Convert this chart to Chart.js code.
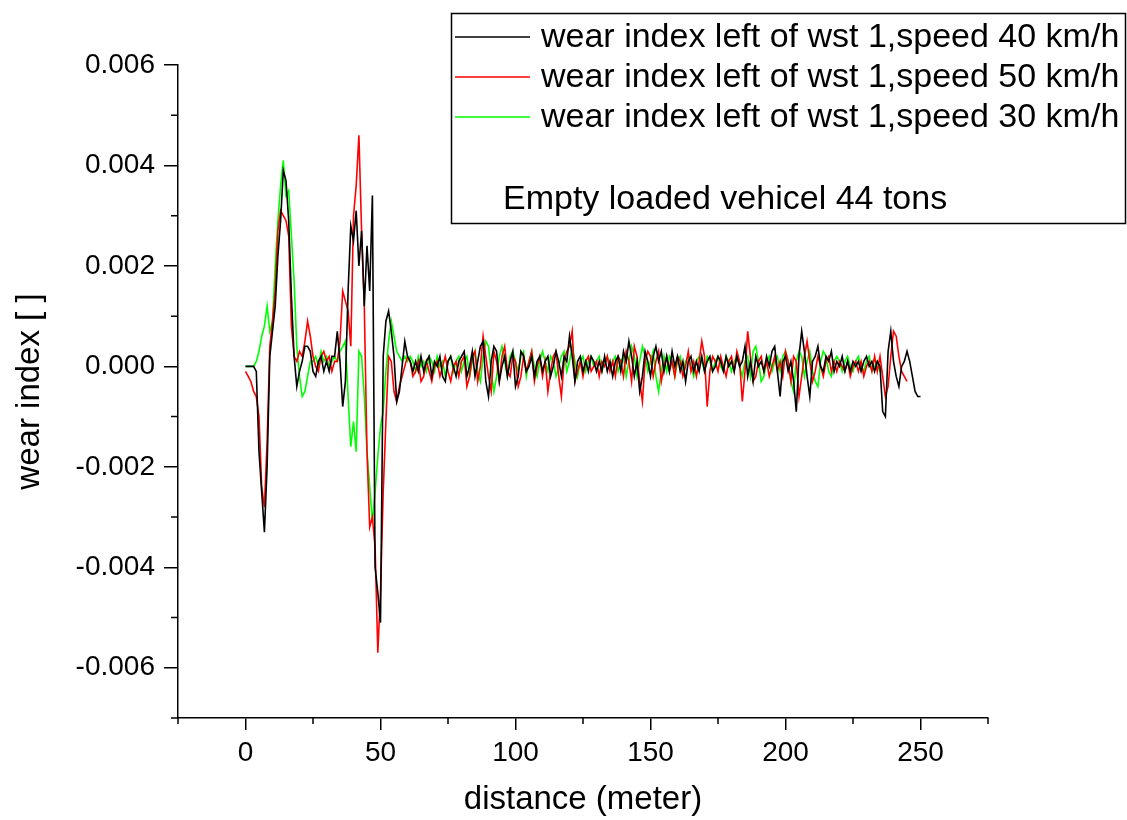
<!DOCTYPE html>
<html>
<head>
<meta charset="utf-8">
<title>wear index</title>
<script src="https://cdn.jsdelivr.net/npm/chart.js@4.4.1/dist/chart.umd.min.js"></script>
<style>
  html, body { margin: 0; padding: 0; background: #fff; }
  canvas { display: block; }
</style>
</head>
<body>
<canvas id="chart" width="1127" height="820"></canvas>
<script>
// distance step of the samples (meter), series start at 0 m
const distanceStep = 1;

// speed 40 km/h (black), 0..250 m
const wear40 = [
  0, 0, 0, 0, -0.0001, -0.0017, -0.0025, -0.0033, -0.0020, 0.0002,
  0.0007, 0.0012, 0.0022, 0.0029, 0.0039, 0.0037, 0.0029, 0.0014, 0.0002, -0.0004,
  -0.0001, 0.0001, 0.0004, 0.0004, 0.0003, -0.0001, -0.0002, 0.0001, 0.0002, -0.0001,
  0.0001, -0.0001, 0.0002, 0.0002, 0.0007, 0.0001, -0.0008, -0.0003, 0.0015, 0.0028,
  0.0025, 0.0031, 0.0020, 0.0027, 0.0012, 0.0024, 0.0015, 0.0034, -0.0040, -0.0045,
  -0.0051, 0.0002, 0.0009, 0.0011, 0.0007, 0.0002, -0.0007, -0.0005, 0, 0.0005,
  0.0002, 0.0001, -0.0001, 0.0001, -0.0001, 0.0002, -0.0001, 0.0001, 0.0002, -0.0002,
  0.0001, 0, 0.0002, -0.0002, -0.0003, 0.0001, 0.0002, 0, -0.0002, 0.0001,
  0.0002, 0.0003, -0.0002, 0, 0.0003, -0.0002, 0.0001, 0.0004, 0.0005, -0.0003,
  -0.0006, 0.0001, 0.0004, 0.0003, -0.0003, 0, 0.0002, -0.0002, 0.0001, 0.0003,
  -0.0004, -0.0002, 0.0003, 0.0002, -0.0001, 0, 0.0002, -0.0002, 0.0001, 0.0002,
  -0.0001, 0.0001, 0.0002, -0.0002, 0, 0.0003, 0.0001, -0.0002, 0.0002, 0.0001,
  0.0006, 0.0002, -0.0003, 0.0001, 0.0002, -0.0001, 0.0001, -0.0001, 0.0002, 0.0001,
  -0.0001, 0.0001, -0.0001, 0.0002, -0.0001, 0.0001, -0.0002, 0.0001, 0.0002, -0.0001,
  0.0003, 0.0001, 0.0005, 0.0002, -0.0002, 0.0001, -0.0005, -0.0002, 0.0003, 0.0001,
  -0.0002, 0.0002, 0.0004, 0.0001, 0.0003, -0.0001, 0.0002, -0.0001, 0.0003, 0,
  0.0002, -0.0001, 0.0001, -0.0003, 0.0001, 0.0002, -0.0001, 0.0001, -0.0001, 0.0002,
  -0.0001, 0.0001, 0.0002, -0.0001, 0, 0.0002, 0.0001, -0.0001, 0.0002, 0,
  0.0001, -0.0001, 0.0002, 0, 0.0001, 0.0004, -0.0002, 0.0001, -0.0003, 0.0002,
  0, 0.0001, -0.0001, 0.0002, 0, 0.0003, 0.0004, -0.0001, -0.0006, 0.0001,
  0.0002, -0.0001, 0.0001, -0.0003, -0.0009, 0.0002, 0.0007, 0.0003, -0.0002, -0.0006,
  0.0001, 0.0002, 0.0004, 0, -0.0001, 0.0002, 0.0001, 0.0003, -0.0001, 0.0001,
  0, 0.0002, -0.0001, 0.0001, -0.0001, 0.0001, 0, 0.0001, -0.0001, 0.0001,
  0.0002, 0, 0.0001, -0.0001, 0.0001, 0, -0.0009, -0.0010, 0.0003, 0.0007,
  0.0001, -0.0002, -0.0004, 0, 0.0001, 0.0003, 0.0001, -0.0002, -0.0005, -0.0006,
  -0.0006
];

// speed 50 km/h (red), 0..245 m
const wear50 = [
  -0.0001, -0.0002, -0.0003, -0.0005, -0.0006, -0.0010, -0.0024, -0.0028, -0.0015, 0.0004,
  0.0009, 0.0015, 0.0027, 0.0031, 0.0030, 0.0029, 0.0026, 0.0008, 0.0002, 0.0001,
  0.0003, 0.0002, 0.0005, 0.0009, 0.0006, 0.0002, 0, -0.0001, 0.0002, 0.0003,
  0.0001, 0.0002, -0.0001, 0.0001, 0.0001, 0.0005, 0.0015, 0.0013, 0.0011, 0.0004,
  0.0030, 0.0036, 0.0046, 0.0027, 0.0012, -0.0017, -0.0032, -0.0030, -0.0036, -0.0057,
  -0.0045, -0.0025, -0.0011, 0.0002, 0.0001, -0.0005, -0.0007, -0.0004, -0.0002, 0,
  0.0002, 0.0001, -0.0002, -0.0001, 0.0001, -0.0003, -0.0002, 0.0001, -0.0001, -0.0003,
  0, 0.0001, -0.0002, 0, 0.0002, -0.0001, -0.0003, 0, 0.0001, -0.0002,
  0.0001, 0.0002, -0.0004, -0.0002, 0.0002, 0.0003, -0.0003, 0, 0.0006, 0.0002,
  -0.0002, -0.0005, 0.0003, 0.0001, -0.0003, 0.0002, 0.0004, -0.0001, -0.0002, 0.0002,
  0.0001, -0.0004, -0.0002, 0.0002, -0.0001, 0.0001, 0.0003, -0.0003, 0, 0.0002,
  -0.0002, 0.0001, -0.0005, -0.0001, 0.0002, 0.0003, -0.0002, -0.0006, 0.0001, 0.0003,
  0.0004, 0.0007, -0.0003, -0.0001, 0.0001, -0.0002, 0.0001, 0.0002, -0.0001, 0,
  0.0001, -0.0002, 0.0001, 0, 0.0002, -0.0001, 0.0001, -0.0002, 0.0002, 0.0001,
  -0.0002, 0.0003, 0.0001, -0.0003, 0.0004, 0.0002, -0.0003, -0.0007, 0.0001, 0.0003,
  0.0002, -0.0002, 0.0001, 0.0003, -0.0003, 0, 0.0002, -0.0001, 0.0001, -0.0002,
  0.0002, 0.0001, -0.0002, 0, 0.0003, -0.0001, 0.0001, -0.0002, 0.0001, 0.0005,
  0.0002, -0.0008, -0.0001, 0.0002, 0.0001, -0.0001, 0.0002, 0, -0.0002, 0.0001,
  0.0002, -0.0001, 0.0003, 0.0001, -0.0007, -0.0001, 0.0007, 0.0002, -0.0003, -0.0002,
  0.0001, 0.0002, -0.0001, 0.0001, -0.0002, 0, 0.0002, -0.0001, 0.0001, -0.0002,
  0.0003, 0.0001, -0.0003, 0.0002, 0.0001, -0.0006, -0.0002, 0.0002, 0.0005, 0.0001,
  -0.0003, -0.0001, 0.0002, 0, -0.0002, 0.0001, 0.0002, -0.0001, 0.0001, -0.0001,
  0.0001, 0, -0.0001, 0.0001, -0.0002, 0, 0.0001, -0.0001, 0.0001, -0.0002,
  0, 0.0001, -0.0001, 0.0002, -0.0001, 0.0002, -0.0002, -0.0006, -0.0004, 0.0002,
  0.0007, 0.0006, 0.0002, -0.0001, -0.0002, -0.0003
];

// speed 30 km/h (green), 0..236 m
const wear30 = [
  0, 0, 0, 0, 0.0001, 0.0003, 0.0006, 0.0008, 0.0012, 0.0007,
  0.0009, 0.0020, 0.0029, 0.0036, 0.0041, 0.0034, 0.0035, 0.0026, 0.0017, 0.0004,
  -0.0002, -0.0006, -0.0005, -0.0002, 0.0001, 0.0001, 0.0002, 0, 0.0003, 0.0001,
  0.0002, 0, 0.0001, 0.0002, 0.0001, 0.0003, 0.0004, 0.0005, -0.0006, -0.0016,
  -0.0011, -0.0017, 0.0003, 0.0002, -0.0006, -0.0017, -0.0024, -0.0031, -0.0025, -0.0018,
  -0.0012, -0.0009, -0.0001, 0.0005, 0.0009, 0.0006, 0.0003, 0.0002, 0.0001, 0.0002,
  0.0001, 0.0002, 0.0001, -0.0001, 0.0002, 0, 0.0001, -0.0001, 0.0002, 0.0001,
  -0.0001, 0.0002, 0, 0.0001, -0.0002, 0.0001, 0.0002, -0.0001, 0.0001, 0.0002,
  -0.0001, 0.0001, 0.0002, -0.0002, 0.0001, 0.0003, -0.0001, -0.0003, 0.0002, 0.0005,
  0.0004, -0.0001, -0.0005, -0.0002, 0.0002, 0.0004, 0.0001, -0.0002, 0.0002, 0.0003,
  0.0001, -0.0001, 0.0002, 0.0003, -0.0002, 0.0001, 0.0003, 0, -0.0002, 0.0001,
  0.0003, 0.0001, -0.0001, 0.0002, 0.0001, -0.0002, 0, 0.0002, 0.0003, -0.0001,
  0.0001, 0.0004, 0.0001, -0.0002, 0.0001, 0.0002, -0.0001, 0.0001, 0.0002, 0,
  0.0001, 0.0002, -0.0001, 0.0001, 0.0002, 0, 0.0001, 0.0002, -0.0001, 0.0001,
  0.0002, -0.0002, 0.0001, 0.0004, 0.0002, -0.0002, 0.0001, 0.0004, 0.0002, -0.0001,
  0.0001, 0.0003, -0.0002, -0.0005, -0.0001, 0.0002, -0.0001, 0.0002, 0.0001, -0.0002,
  0.0001, 0.0002, -0.0001, 0.0001, 0.0002, 0, -0.0002, 0.0001, 0.0002, 0.0001,
  -0.0001, 0.0002, 0.0001, -0.0001, 0.0001, 0.0002, 0, -0.0001, 0.0002, 0.0001,
  -0.0001, 0.0001, 0.0002, 0, -0.0002, 0.0001, 0.0002, -0.0002, 0.0003, 0.0004,
  0.0001, -0.0003, -0.0002, 0.0001, 0.0002, -0.0001, 0.0001, 0.0002, -0.0001, 0.0002,
  0.0003, 0.0001, -0.0003, -0.0005, 0.0001, 0.0003, 0.0002, -0.0002, 0.0001, 0.0003,
  -0.0001, -0.0003, -0.0004, 0.0001, 0.0003, 0.0002, -0.0001, -0.0002, 0.0001, 0.0002,
  0.0001, -0.0001, 0.0001, 0.0002, 0, -0.0001, 0.0001, 0.0002, 0, -0.0001,
  0.0001, 0.0002, -0.0001, 0, 0.0001, -0.0001, -0.0001
];

const seriesLabels = [
  'wear index left of wst 1,speed 40 km/h',
  'wear index left of wst 1,speed 50 km/h',
  'wear index left of wst 1,speed 30 km/h'
];
const seriesColors = ['#000000', '#ff0000', '#00ff00'];
const noteText = 'Empty loaded vehicel 44 tons';

const xMajorTicks = [0, 50, 100, 150, 200, 250];
const xMinorTicks = [-25, 25, 75, 125, 175, 225, 275];
const yMajorTicks = [-0.006, -0.004, -0.002, 0, 0.002, 0.004, 0.006];
const yMinorTicks = [-0.007, -0.005, -0.003, -0.001, 0.001, 0.003, 0.005];

const FONT = '"Liberation Sans", Arial, sans-serif';

function toPoints(values) {
  return values.map((v, i) => ({ x: i * distanceStep, y: v }));
}

// minor ticks + the boxed legend with the note line
const extras = {
  id: 'extras',
  afterDraw(chart) {
    const ctx = chart.ctx;
    const xs = chart.scales.x, ys = chart.scales.y;
    ctx.save();
    ctx.strokeStyle = '#000';
    ctx.lineWidth = 1.5;
    ctx.beginPath();
    xMinorTicks.forEach(v => {
      const px = xs.getPixelForValue(v);
      ctx.moveTo(px, ys.bottom);
      ctx.lineTo(px, ys.bottom + 6);
    });
    yMinorTicks.forEach(v => {
      const py = ys.getPixelForValue(v);
      ctx.moveTo(xs.left, py);
      ctx.lineTo(xs.left - 7, py);
    });
    ctx.stroke();

    // legend box
    ctx.lineWidth = 1.5;
    ctx.strokeRect(451.5, 13.5, 674, 210);
    ctx.font = '34px ' + FONT;
    ctx.textBaseline = 'middle';
    ctx.fillStyle = '#000';
    const rows = [37, 77, 117];
    chart.data.datasets.forEach((ds, i) => {
      ctx.strokeStyle = ds.borderColor;
      ctx.lineWidth = 1.5;
      ctx.beginPath();
      ctx.moveTo(455, rows[i]);
      ctx.lineTo(530, rows[i]);
      ctx.stroke();
      ctx.fillText(ds.label, 541, rows[i] + 1);
    });
    ctx.fillText(noteText, 503, 200);
    ctx.restore();
  }
};

const datasets = [wear40, wear50, wear30].map((vals, i) => ({
  label: seriesLabels[i],
  data: toPoints(vals),
  borderColor: seriesColors[i],
  backgroundColor: seriesColors[i],
  borderWidth: 1.6,
  pointRadius: 0,
  tension: 0,
  fill: false
}));

new Chart(document.getElementById('chart'), {
  type: 'line',
  data: { datasets },
  plugins: [extras],
  options: {
    responsive: false,
    animation: false,
    devicePixelRatio: 1,
    layout: { padding: { left: 0, top: 65, right: 139, bottom: 0 } },
    plugins: { legend: { display: false }, tooltip: { enabled: false } },
    scales: {
      x: {
        type: 'linear',
        min: -25,
        max: 275,
        afterBuildTicks: s => { s.ticks = xMajorTicks.map(v => ({ value: v })); },
        afterFit: s => { s.height = 102; },
        border: { color: '#000', width: 1.5 },
        grid: { drawOnChartArea: false, color: '#000', lineWidth: 1.5, tickLength: 12 },
        ticks: { color: '#000', font: { family: FONT, size: 28 }, padding: 6, maxRotation: 0, callback: v => String(v) },
        title: { display: true, text: 'distance (meter)', color: '#000', font: { family: FONT, size: 33 }, padding: { top: 0, bottom: 0 } }
      },
      y: {
        min: -0.007,
        max: 0.006,
        afterBuildTicks: s => { s.ticks = yMajorTicks.map(v => ({ value: v })); },
        afterFit: s => { s.width = 178; },
        border: { color: '#000', width: 1.5 },
        grid: { drawOnChartArea: false, color: '#000', lineWidth: 1.5, tickLength: 14 },
        ticks: { color: '#000', font: { family: FONT, size: 28 }, padding: 9, callback: v => v.toFixed(3) },
        title: { display: true, text: 'wear index [ ]', color: '#000', font: { family: FONT, size: 33 }, padding: { top: 10, bottom: 0 } }
      }
    }
  }
});
</script>
</body>
</html>
